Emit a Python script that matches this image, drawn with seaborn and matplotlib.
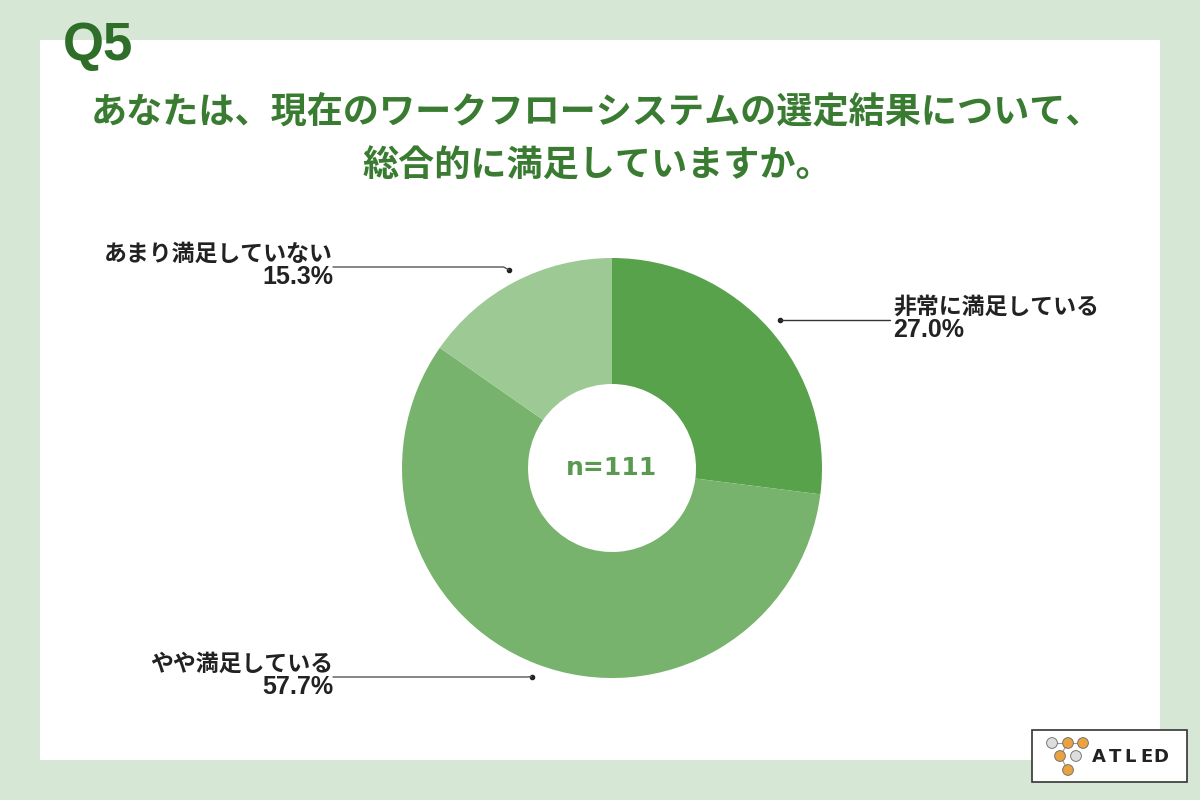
import numpy as np
import matplotlib
matplotlib.use("Agg")
import matplotlib.pyplot as plt
import seaborn as sns
from matplotlib.patches import Rectangle

# データ
labels = ["非常に満足している", "やや満足している", "あまり満足していない"]
values = [27.0, 57.7, 15.3]
colors = ["#58a24c", "#77b36c", "#9cc994"]
n_total = 111
question = "Q5"
title_lines = ["あなたは、現在のワークフローシステムの選定結果について、",
               "総合的に満足していますか。"]

sns.set_theme(style="white")
plt.rcParams['font.family'] = ['Noto Sans CJK JP', 'DejaVu Sans']

W, H = 1200, 800
fig = plt.figure(figsize=(12, 8), dpi=100)
fig.patch.set_facecolor("#d6e8d5")


def fx(x):
    return x / W


def fy(y):
    return 1 - y / H


# 白いパネル
fig.add_artist(Rectangle((fx(40), fy(760)), fx(1120), 720 / H,
                         transform=fig.transFigure, facecolor="white",
                         edgecolor="none", zorder=0))

# タイトル
fig.text(fx(63), fy(46), question, fontsize=38, fontweight="bold",
         color="#2f6e28", family=['Liberation Sans', 'DejaVu Sans'],
         ha="left", va="center")
fig.text(fx(597), fy(112), title_lines[0], fontsize=26, fontweight="bold",
         color="#3a7b32", ha="center", va="center")
fig.text(fx(597), fy(166), title_lines[1], fontsize=26, fontweight="bold",
         color="#3a7b32", ha="center", va="center")

# ドーナツグラフ
cx, cy, r = 612, 468, 210
ax = fig.add_axes([fx(cx - r), fy(cy + r), 2 * r / W, 2 * r / H])
wedges, _ = ax.pie(values, colors=colors, startangle=90, counterclock=False,
                   radius=1, wedgeprops=dict(width=0.6, edgecolor="none"))
ax.set_xlim(-1, 1)
ax.set_ylim(-1, 1)
ax.set_aspect("equal")
ax.axis("off")
ax.text(0, 0, f"n={n_total}", fontsize=18, fontweight="bold", color="#5a9a50",
        family=['DejaVu Sans'], ha="center", va="center")

# 引き出し線とラベル
# (ラベルx位置[px], 線のy位置[px], 揃え)
label_pos = {
    0: (890, 318, "left"),
    1: (333, 677, "right"),
    2: (333, 267, "right"),
}
for i, w in enumerate(wedges):
    ang = np.deg2rad((w.theta1 + w.theta2) / 2)
    dx, dy = 1.065 * np.cos(ang), 1.065 * np.sin(ang)
    lx, ly, ha = label_pos[i]
    tx = (lx - cx) / r
    ty = (cy - ly) / r
    ax.plot([dx], [dy], "o", color="#222222", markersize=3, clip_on=False)
    if ha == "left":
        ax.plot([dx, tx], [dy, dy], color="#333333", lw=1, clip_on=False)
        ly = cy - dy * r
    else:
        kx = dx - 5 / r
        ax.plot([dx, kx, tx], [dy, ty, ty], color="#555555", lw=1, clip_on=False)
    x_txt = lx + (3 if ha == "left" else 0)
    fig.text(fx(x_txt), fy(ly - 13), labels[i],
             fontsize=16.5, fontweight="bold", color="#222222", ha=ha, va="center")
    fig.text(fx(x_txt), fy(ly + 10), f"{values[i]:.1f}%",
             fontsize=18, fontweight="bold", color="#222222", ha=ha, va="center",
             family=['Liberation Sans', 'DejaVu Sans'])

# ロゴ
fig.add_artist(Rectangle((fx(1032), fy(782)), fx(155), 52 / H,
                         transform=fig.transFigure, facecolor="white",
                         edgecolor="#333333", lw=1.2, zorder=2))
lax = fig.add_axes([fx(1032), fy(782), fx(155), 52 / H], zorder=5)
lax.patch.set_alpha(0)
lax.set_xlim(1032, 1187)
lax.set_ylim(782, 730)
logo_x = [1052, 1068, 1083, 1060, 1076, 1068]
logo_y = [743, 743, 743, 756, 756, 770]
logo_c = ["#dddddd", "#e9a23f", "#e9a23f", "#e9a23f", "#dddddd", "#e9a23f"]
lax.plot([1052, 1083], [743, 743], color="#999999", lw=0.8, zorder=1)
lax.plot([1068, 1060, 1068], [743, 756, 770], color="#999999", lw=0.8, zorder=1)
lax.scatter(logo_x, logo_y, s=60, c=logo_c, edgecolors="#666666",
            linewidths=0.6, zorder=2)
logo_letters = list("ATLED")
letter_x = [1099, 1115, 1130, 1146, 1161]
for ch, lxp in zip(logo_letters, letter_x):
    lax.text(lxp, 757, ch, fontsize=13, fontweight="bold",
             color="#222222", family=['DejaVu Sans'], ha="center", va="center")
lax.axis("off")

fig.savefig("out.png", dpi=100, facecolor=fig.get_facecolor())
